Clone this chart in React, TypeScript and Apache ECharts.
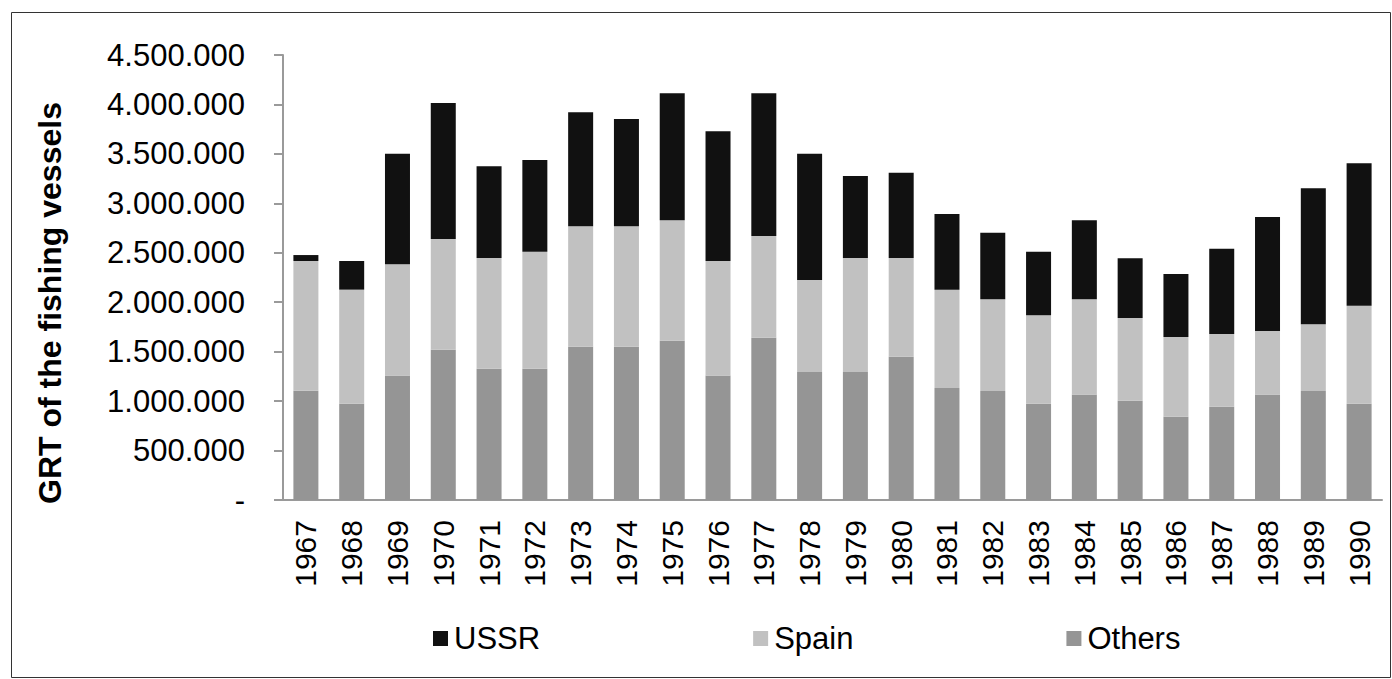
import React, { useEffect, useRef } from "react";
import * as echarts from "echarts";

const years = ["1967","1968","1969","1970","1971","1972","1973","1974","1975","1976","1977","1978","1979","1980","1981","1982","1983","1984","1985","1986","1987","1988","1989","1990"];
const others = [1105000,974000,1260000,1520000,1328000,1328000,1550000,1550000,1611000,1260000,1641000,1294000,1294000,1449000,1133000,1102000,974000,1068000,1004000,843000,944000,1068000,1102000,974000];
const spain = [1312000,1153000,1123000,1119000,1119000,1183000,1217000,1217000,1217000,1157000,1029000,931000,1153000,998000,994000,927000,893000,961000,836000,805000,735000,641000,674000,991000];
const ussr = [60000,290000,1119000,1375000,927000,927000,1153000,1086000,1284000,1311000,1442000,1277000,829000,863000,765000,674000,644000,799000,604000,637000,862000,1153000,1376000,1440000];
const legendNames = ["USSR", "Spain", "Others"];
const yTitle = "GRT of the fishing vessels";

const FONT = "'Liberation Sans', Arial, sans-serif";

function fmt(v: number): string {
  if (v === 0) return "-";
  return String(Math.round(v)).replace(/\B(?=(\d{3})+(?!\d))/g, ".");
}

export default function App() {
  const ref = useRef<HTMLDivElement>(null);
  useEffect(() => {
    if (!ref.current) return;
    const chart = echarts.init(ref.current, null, { renderer: "svg" });
    const axisGray = "#9a9a9a";
    chart.setOption({
      animation: false,
      backgroundColor: "#fff",
      textStyle: { fontFamily: FONT },
      grid: { left: 283, right: 10, top: 55, bottom: 179, containLabel: false },
      legend: {
        data: legendNames,
        left: 433,
        top: 623,
        padding: 0,
        icon: "rect",
        itemWidth: 15,
        itemHeight: 15,
        itemGap: 213,
        textStyle: { fontFamily: FONT, fontSize: 31, color: "#000", padding: [0, 0, 0, 1] },
      },
      xAxis: {
        type: "category",
        data: years,
        axisLine: { show: true, lineStyle: { color: axisGray, width: 2 } },
        axisTick: { show: false },
        axisLabel: { rotate: 90, fontSize: 30, color: "#000", fontFamily: FONT, margin: 20, interval: 0 },
      },
      yAxis: {
        type: "value",
        min: 0,
        max: 4500000,
        interval: 500000,
        splitLine: { show: false },
        axisLine: { show: true, lineStyle: { color: axisGray, width: 2 } },
        axisTick: { show: true, length: 9, lineStyle: { color: axisGray, width: 2 } },
        axisLabel: { fontSize: 31, color: "#000", fontFamily: FONT, margin: 38, formatter: fmt },
      },
      series: [
        { name: "Others", type: "bar", stack: "t", data: others, barWidth: 25, itemStyle: { color: "#959595" } },
        { name: "Spain", type: "bar", stack: "t", data: spain, barWidth: 25, itemStyle: { color: "#c1c1c1" } },
        { name: "USSR", type: "bar", stack: "t", data: ussr, barWidth: 25, itemStyle: { color: "#111111" } },
      ],
      graphic: [
        {
          type: "rect",
          shape: { x: 11.5, y: 12.5, width: 1379, height: 665 },
          style: { fill: "none", stroke: "#333", lineWidth: 1 },
          silent: true,
        },
        {
          type: "text",
          x: 50,
          y: 303,
          rotation: Math.PI / 2,
          style: {
            text: yTitle,
            font: `bold 32px ${FONT}`,
            fill: "#000",
            textAlign: "center",
            textVerticalAlign: "middle",
          },
        },
      ],
    });
    return () => chart.dispose();
  }, []);
  return (
    <div
      ref={ref}
      style={{ position: "absolute", left: 0, top: 0, width: 1392, height: 679 }}
    />
  );
}
